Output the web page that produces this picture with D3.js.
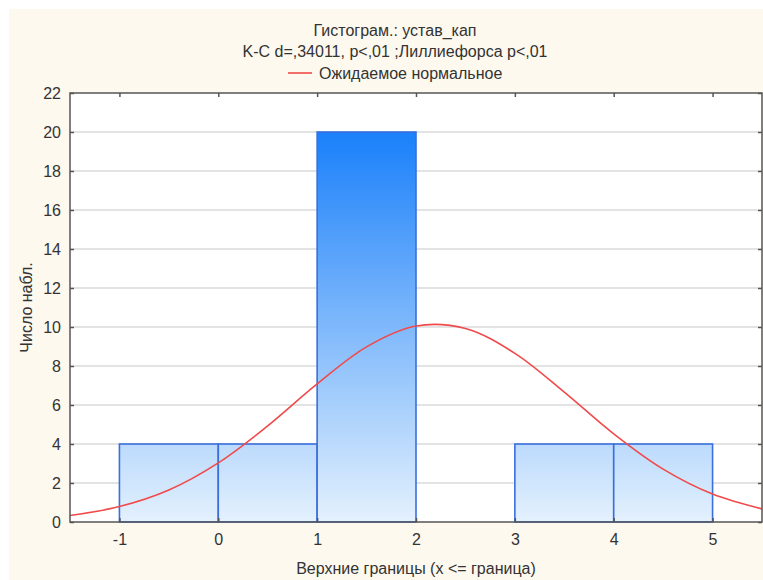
<!DOCTYPE html>
<html>
<head>
<meta charset="utf-8">
<script src="https://cdn.jsdelivr.net/npm/d3@7/dist/d3.min.js"></script>
<style>
  html, body { margin: 0; padding: 0; background: #ffffff; }
  svg { display: block; font-family: "Liberation Sans", Arial, sans-serif; }
</style>
</head>
<body>
<svg id="chart" width="763" height="580"></svg>
<script>
// Histogram bins: lower edge, upper edge and count
const binLower = [-1, 0, 1, 2, 3, 4];
const binUpper = [0, 1, 2, 3, 4, 5];
const binCounts = [4, 4, 20, 0, 4, 4];

// Expected normal curve (count per bin), sampled along the x axis
const curveX = [-1.5, -1, -0.5, 0, 0.5, 1, 1.5, 2, 2.5, 3, 3.5, 4, 4.5, 5, 5.5];
const curveY = [0.33, 0.79, 1.64, 3.03, 4.93, 7.08, 8.98, 10.05, 9.92, 8.65, 6.66, 4.52, 2.71, 1.43, 0.67];

// Tick labels
const xTicks = [-1, 0, 1, 2, 3, 4, 5];
const yTicks = [0, 2, 4, 6, 8, 10, 12, 14, 16, 18, 20, 22];

const titleLines = ["Гистограм.: устав_кап", "K-C d=,34011, p<,01 ;Лиллиефорса p<,01"];
const legendLabel = "Ожидаемое нормальное";
const xTitle = "Верхние границы (x <= граница)";
const yTitle = "Число набл.";

const W = 763, H = 580;
const plot = { left: 70, top: 93, right: 762, bottom: 522 };
const fontSize = 16;
const textColor = "#333";

const svg = d3.select("#chart");

// panel background
svg.append("rect").attr("x", 9).attr("y", 9).attr("width", W - 9).attr("height", H - 9)
  .attr("fill", "#fdf9ef");

const x = d3.scaleLinear().domain([-1.5, 5.5]).range([plot.left, plot.right]);
const y = d3.scaleLinear().domain([0, 22]).range([plot.bottom, plot.top]);

// plot area
svg.append("rect").attr("x", plot.left).attr("y", plot.top)
  .attr("width", plot.right - plot.left).attr("height", plot.bottom - plot.top)
  .attr("fill", "#ffffff");

// bar gradient spans the value range so taller bars reach deeper blue
const defs = svg.append("defs");
const grad = defs.append("linearGradient").attr("id", "barGrad")
  .attr("gradientUnits", "userSpaceOnUse")
  .attr("x1", 0).attr("x2", 0).attr("y1", y(20)).attr("y2", y(0));
grad.append("stop").attr("offset", "0%").attr("stop-color", "#1a80fa");
grad.append("stop").attr("offset", "100%").attr("stop-color", "#e4f1fd");

// horizontal gridlines
svg.append("g").selectAll("line")
  .data(yTicks.filter(d => d > 0 && d < 22))
  .join("line")
  .attr("x1", plot.left).attr("x2", plot.right)
  .attr("y1", d => y(d)).attr("y2", d => y(d))
  .attr("stroke", "#e3e3e3").attr("stroke-width", 2);

// bars
const bins = binCounts.map((c, i) => ({ lo: binLower[i], hi: binUpper[i], n: c }));
svg.append("g").selectAll("rect")
  .data(bins.filter(b => b.n > 0))
  .join("rect")
  .attr("x", b => x(b.lo))
  .attr("y", b => y(b.n))
  .attr("width", b => x(b.hi) - x(b.lo))
  .attr("height", b => y(0) - y(b.n))
  .attr("fill", "url(#barGrad)")
  .attr("stroke", "#3a6fdc")
  .attr("stroke-width", 1.6);

// expected normal curve
const clipId = "plotClip";
defs.append("clipPath").attr("id", clipId).append("rect")
  .attr("x", plot.left).attr("y", plot.top)
  .attr("width", plot.right - plot.left).attr("height", plot.bottom - plot.top);
const line = d3.line()
  .x((d, i) => x(curveX[i]))
  .y(d => y(d))
  .curve(d3.curveCatmullRom.alpha(0.5));
svg.append("path")
  .datum(curveY)
  .attr("clip-path", `url(#${clipId})`)
  .attr("d", line)
  .attr("fill", "none")
  .attr("stroke", "#f04a4a")
  .attr("stroke-width", 1.6);

// axes with inward ticks on all four sides
const tickColor = "#555";
const fmt = d => String(d).replace("\u2212", "-");
const axisLeft = d3.axisLeft(y).tickValues(yTicks).tickSize(-4).tickPadding(9).tickFormat(fmt);
const axisRight = d3.axisRight(y).tickValues(yTicks).tickSize(-4).tickFormat("");
const axisBottom = d3.axisBottom(x).tickValues(xTicks).tickSize(-4).tickPadding(12).tickFormat(fmt);
const axisTop = d3.axisTop(x).tickValues(xTicks).tickSize(-4).tickFormat("");

function styleAxis(g) {
  g.select(".domain").remove();
  g.selectAll(".tick line").attr("stroke", tickColor).attr("stroke-width", 1.5);
  g.selectAll(".tick text").attr("fill", textColor).attr("font-size", fontSize)
    .attr("font-family", "\"Liberation Sans\", Arial, sans-serif");
}
svg.append("g").attr("transform", `translate(${plot.left},0)`).call(axisLeft).call(styleAxis);
svg.append("g").attr("transform", `translate(${plot.right},0)`).call(axisRight).call(styleAxis);
svg.append("g").attr("transform", `translate(0,${plot.bottom})`).call(axisBottom).call(styleAxis);
svg.append("g").attr("transform", `translate(0,${plot.top})`).call(axisTop).call(styleAxis);

// frame
svg.append("rect").attr("x", plot.left).attr("y", plot.top)
  .attr("width", plot.right - plot.left).attr("height", plot.bottom - plot.top)
  .attr("fill", "none").attr("stroke", "#555").attr("stroke-width", 1.5);

// titles
const cx = 395;
svg.append("g").selectAll("text").data(titleLines).join("text")
  .attr("x", cx).attr("y", (d, i) => 36 + i * 21)
  .attr("text-anchor", "middle")
  .attr("font-size", fontSize).attr("fill", textColor)
  .text(d => d);

// legend
const leg = svg.append("g");
leg.append("line").attr("x1", 288).attr("x2", 312).attr("y1", 73).attr("y2", 73)
  .attr("stroke", "#f04a4a").attr("stroke-width", 1.6);
leg.append("text").attr("x", 319).attr("y", 79)
  .attr("font-size", fontSize).attr("fill", textColor).text(legendLabel);

// axis titles
svg.append("text").attr("x", (plot.left + plot.right) / 2).attr("y", 574)
  .attr("text-anchor", "middle").attr("font-size", fontSize).attr("fill", textColor)
  .text(xTitle);
svg.append("text")
  .attr("transform", `translate(32,${(plot.top + plot.bottom) / 2}) rotate(-90)`)
  .attr("text-anchor", "middle").attr("font-size", fontSize).attr("fill", textColor)
  .text(yTitle);
</script>
</body>
</html>
